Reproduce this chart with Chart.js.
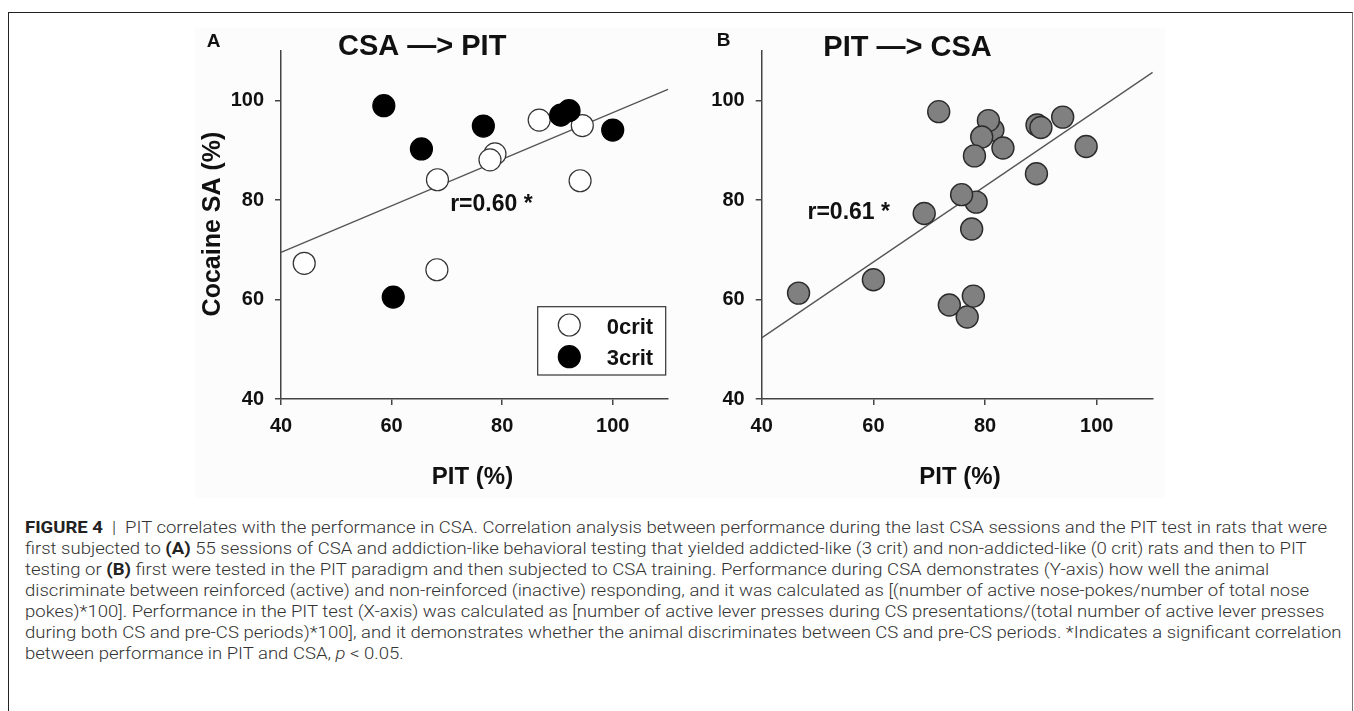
<!DOCTYPE html>
<html>
<head>
<meta charset="utf-8">
<script src="https://cdn.jsdelivr.net/npm/chart.js@4.4.0/dist/chart.umd.min.js"></script>
<style>
html,body{margin:0;padding:0;background:#fff;width:1354px;height:711px;overflow:hidden;}
#frame{position:absolute;left:8px;top:12px;width:1345px;height:720px;border:1px solid #222;border-right-color:#777;box-sizing:border-box;}
#img{position:absolute;left:195px;top:28px;width:970px;height:470px;background:#fcfcfc;}
#cA{position:absolute;left:197px;top:28px;}
#cB{position:absolute;left:697px;top:28px;}
#cap{position:absolute;left:25px;top:517px;transform-origin:0 0;font-family:"Liberation Sans Narrow","Roboto","Liberation Sans",sans-serif;font-weight:300;font-size:17px;color:#333;line-height:20.95px;}
#cap .ln{white-space:nowrap;}
#cap b{color:#222;font-weight:700;}
</style>
</head>
<body>
<div id="frame"></div>
<div id="img"></div>
<canvas id="cA" width="500" height="470"></canvas>
<canvas id="cB" width="468" height="470"></canvas>
<div id="cap">
<div class="ln" id="ln1"><b>FIGURE 4</b>&nbsp;&nbsp;|&nbsp;&nbsp;PIT correlates with the performance in CSA. Correlation analysis between performance during the last CSA sessions and the PIT test in rats that were</div>
<div class="ln">first subjected to <b>(A)</b> 55 sessions of CSA and addiction-like behavioral testing that yielded addicted-like (3 crit) and non-addicted-like (0 crit) rats and then to PIT</div>
<div class="ln">testing or <b>(B)</b> first were tested in the PIT paradigm and then subjected to CSA training. Performance during CSA demonstrates (Y-axis) how well the animal</div>
<div class="ln">discriminate between reinforced (active) and non-reinforced (inactive) responding, and it was calculated as [(number of active nose-pokes/number of total nose</div>
<div class="ln">pokes)*100]. Performance in the PIT test (X-axis) was calculated as [number of active lever presses during CS presentations/(total number of active lever presses</div>
<div class="ln">during both CS and pre-CS periods)*100], and it demonstrates whether the animal discriminates between CS and pre-CS periods. *Indicates a significant correlation</div>
<div class="ln">between performance in PIT and CSA, <i>p</i> &lt; 0.05.</div>
</div>
<script>
// ---------- data ----------
const xTicks = [40, 60, 80, 100];
const yTicks = [40, 60, 80, 100];

// Panel A: CSA -> PIT
const pitA_0crit = [44.2, 68.2, 68.3, 78.7, 77.8, 86.7, 94.5, 94.1];
const csaA_0crit = [67.3, 66.0, 84.1, 89.3, 88.1, 96.1, 95.0, 83.9];
const pitA_3crit = [58.6, 65.4, 76.6, 90.6, 92.1, 100.0, 60.3];
const csaA_3crit = [99.0, 90.3, 94.9, 97.1, 98.0, 94.1, 60.5];
const fitA_x = [40, 110];
const fitA_y = [69.5, 102.3];
const rA = "r=0.60 *";

// Panel B: PIT -> CSA
const pitB = [71.7, 81.4, 80.6, 79.4, 78.1, 83.2, 89.3, 90.0, 93.9, 98.1, 89.2, 78.4, 75.8, 69.1, 77.6, 60.0, 46.6, 73.6, 76.8, 77.9];
const csaB = [97.8, 94.1, 96.0, 92.7, 88.9, 90.5, 95.1, 94.6, 96.7, 90.8, 85.3, 79.6, 81.1, 77.3, 74.2, 64.0, 61.3, 58.9, 56.5, 60.7];
const fitB_x = [40, 110];
const fitB_y = [52.3, 105.7];
const rB = "r=0.61 *";

const pts = (xs, ys) => xs.map((x, i) => ({x: x, y: ys[i]}));
const FONT = '"Liberation Sans", Arial, sans-serif';

const textPlugin = {
  id: 'texts',
  afterDraw(chart, args, opts) {
    const ctx = chart.ctx;
    (opts.boxes || []).forEach(b => {
      ctx.save();
      ctx.fillStyle = '#fff'; ctx.fillRect(b.x, b.y, b.w, b.h);
      ctx.strokeStyle = '#333'; ctx.lineWidth = 1.2; ctx.strokeRect(b.x, b.y, b.w, b.h);
      (b.entries || []).forEach(e => {
        const ds = chart.data.datasets[e.ds];
        ctx.beginPath(); ctx.arc(e.cx, e.cy, ds.pointRadius, 0, Math.PI * 2);
        ctx.fillStyle = ds.backgroundColor; ctx.fill();
        ctx.lineWidth = ds.borderWidth; ctx.strokeStyle = ds.borderColor; ctx.stroke();
        ctx.fillStyle = '#111'; ctx.font = 'bold 22px ' + FONT;
        ctx.textAlign = 'left'; ctx.textBaseline = 'alphabetic';
        ctx.fillText(ds.label, e.tx, e.ty);
      });
      ctx.restore();
    });
    (opts.items || []).forEach(t => {
      ctx.save();
      ctx.font = t.font + ' ' + FONT;
      ctx.fillStyle = t.color || '#111';
      ctx.textAlign = t.align || 'left';
      ctx.textBaseline = t.baseline || 'alphabetic';
      let x = t.x, y = t.y;
      if (t.data) { x = chart.scales.x.getPixelForValue(t.x); y = chart.scales.y.getPixelForValue(t.y); }
      ctx.translate(x, y);
      if (t.rot) ctx.rotate(t.rot);
      if (t.sx) ctx.scale(t.sx, 1);
      ctx.fillText(t.text, 0, 0);
      ctx.restore();
    });
  }
};

function axes(yw, xh) {
  const common = {
    type: 'linear', min: 40, max: 110,
    ticks: {font: {family: FONT, size: 20, weight: 'bold'}, color: '#111'},
    grid: {display: true, drawOnChartArea: false, drawTicks: true, tickLength: 6, color: '#444', lineWidth: 1.5},
    border: {display: true, color: '#444', width: 1.5}
  };
  return {
    x: Object.assign({}, common, {
      ticks: Object.assign({}, common.ticks, {padding: 9}),
      afterBuildTicks(s) { s.ticks = xTicks.map(v => ({value: v})); },
      afterFit(s) { s.height = xh; }
    }),
    y: Object.assign({}, common, {
      ticks: Object.assign({}, common.ticks, {padding: 11}),
      afterBuildTicks(s) { s.ticks = yTicks.map(v => ({value: v})); },
      afterFit(s) { s.width = yw; }
    })
  };
}

new Chart(document.getElementById('cA'), {
  type: 'scatter',
  data: {datasets: [
    {label: '0crit', data: pts(pitA_0crit, csaA_0crit), pointRadius: 11, pointHoverRadius: 11,
     backgroundColor: '#ffffff', borderColor: '#333', borderWidth: 1.2, order: 2, clip: false},
    {label: '3crit', data: pts(pitA_3crit, csaA_3crit), pointRadius: 11, pointHoverRadius: 11,
     backgroundColor: '#000000', borderColor: '#000', borderWidth: 1.2, order: 1, clip: false},
    {type: 'line', label: 'fit', data: pts(fitA_x, fitA_y), borderColor: '#555', borderWidth: 1.3,
     pointRadius: 0, fill: false, order: 5, clip: false}
  ]},
  options: {
    responsive: false, animation: false, devicePixelRatio: 1,
    layout: {padding: {top: 21, right: 29, left: 0, bottom: 0}},
    events: [],
    plugins: {
      legend: {display: false}, tooltip: {enabled: false},
      texts: {
        boxes: [{x: 340.7, y: 278.7, w: 128, h: 68.3, entries: [
          {ds: 0, cx: 372.3, cy: 297, tx: 409.7, ty: 306},
          {ds: 1, cx: 372.3, cy: 328.7, tx: 409.7, ty: 337}
        ]}],
        items: [
          {text: 'A', x: 9.7, y: 19, font: 'bold 19px'},
          {text: 'CSA \u2014> PIT', x: 141, y: 27, font: 'bold 29px'},
          {text: 'Cocaine SA (%)', x: 16, y: 196, font: 'bold 25px', align: 'center', baseline: 'middle', rot: -Math.PI / 2},
          {text: 'PIT (%)', x: 275.5, y: 456, font: 'bold 24px', align: 'center'},
          {text: rA, x: 70.6, y: 77.8, data: true, font: 'bold 23px'}
        ]
      }
    },
    scales: axes(84, 99)
  },
  plugins: [textPlugin]
});

new Chart(document.getElementById('cB'), {
  type: 'scatter',
  data: {datasets: [
    {label: 'rats', data: pts(pitB, csaB), pointRadius: 11, pointHoverRadius: 11,
     backgroundColor: '#808080', borderColor: '#2a2a2a', borderWidth: 1.4, order: 1, clip: false},
    {type: 'line', label: 'fit', data: pts(fitB_x, fitB_y), borderColor: '#555', borderWidth: 1.3,
     pointRadius: 0, fill: false, order: 5, clip: false}
  ]},
  options: {
    responsive: false, animation: false, devicePixelRatio: 1,
    layout: {padding: {top: 21, right: 3.6, left: 0, bottom: 0}},
    events: [],
    plugins: {
      legend: {display: false}, tooltip: {enabled: false},
      texts: {
        items: [
          {text: 'B', x: 19.7, y: 18, font: 'bold 19px'},
          {text: 'PIT \u2014> CSA', x: 126.3, y: 28, font: 'bold 29px'},
          {text: 'PIT (%)', x: 263, y: 456, font: 'bold 24px', align: 'center'},
          {text: rB, x: 48.2, y: 76.3, data: true, font: 'bold 23px'}
        ]
      }
    },
    scales: axes(64.7, 99)
  },
  plugins: [textPlugin]
});

// fit caption width
(function () {
  const cap = document.getElementById('cap');
  const l1 = document.getElementById('ln1');
  const s = document.createElement('span');
  s.innerHTML = l1.innerHTML; s.style.whiteSpace = 'nowrap';
  l1.innerHTML = ''; l1.appendChild(s);
  const w = s.getBoundingClientRect().width;
  const target = 1302;
  cap.style.transform = 'scaleX(' + (target / w) + ')';
})();
</script>
</body>
</html>
